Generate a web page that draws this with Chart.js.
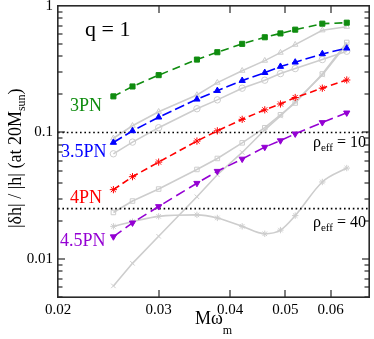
<!DOCTYPE html>
<html>
<head>
<meta charset="utf-8">
<script src="https://cdn.jsdelivr.net/npm/chart.js@4"></script>
<style>
  html, body { margin: 0; padding: 0; background: #fff; }
  #wrap { width: 374px; height: 339px; }
</style>
</head>
<body>
<div id="wrap"><canvas id="myChart" width="374" height="339"></canvas></div>
<script>
// frequencies M*omega_m
const xVals = [0.025, 0.027, 0.030, 0.035, 0.038, 0.042, 0.046, 0.049, 0.052, 0.058, 0.064];

// PN orders (coloured, dashed)
const pn3  = [0.193, 0.231, 0.284, 0.377, 0.431, 0.502, 0.566, 0.607, 0.650, 0.725, 0.738];
const pn35 = [0.0833, 0.103, 0.132, 0.183, 0.214, 0.257, 0.297, 0.332, 0.359, 0.418, 0.463];
const pn4  = [0.0353, 0.0447, 0.0583, 0.0855, 0.103, 0.127, 0.151, 0.168, 0.189, 0.224, 0.260];
const pn45 = [0.0150, 0.0193, 0.0260, 0.0397, 0.0494, 0.0617, 0.0766, 0.0862, 0.0976, 0.120, 0.143];

// other curves (grey)
const grayTri  = [0.090, 0.113, 0.146, 0.198, 0.248, 0.308, 0.370, 0.428, 0.495, 0.643, 0.686];
const grayCirc = [0.0678, 0.0839, 0.109, 0.154, 0.181, 0.224, 0.259, 0.292, 0.320, 0.377, 0.439];
const graySq   = [0.0233, 0.0287, 0.0357, 0.051, 0.0623, 0.0828, 0.109, 0.138, 0.171, 0.290, 0.515];
const grayX    = [0.00612, 0.00923, 0.0151, 0.031, 0.0463, 0.0695, 0.105, 0.135, 0.175, 0.285, 0.501];
const grayStar = [0.0181, 0.0197, 0.0217, 0.0223, 0.0211, 0.0181, 0.0158, 0.0169, 0.0220, 0.0406, 0.0523];

// SNR threshold lines
const rhoLevels = [0.1, 0.025];

const xTicks = [0.02, 0.03, 0.04, 0.05, 0.06];
const yTicks = [0.01, 0.1, 1];

const GRAY = '#cdcdcd';
const SERIF = '"Liberation Serif", "Times New Roman", serif';

const pts = arr => xVals.map((x, i) => ({ x: x, y: arr[i] }));

function pnSet(arr, color, style, dash, rot) {
    return {
        data: pts(arr), borderColor: color, backgroundColor: color,
        borderWidth: 1.6, borderDash: dash, pointStyle: style,
        pointRotation: rot || 0, pointRadius: 3.6, pointBorderWidth: 1,
        pointBorderColor: color, pointBackgroundColor: color, tension: 0
    };
}
function graySet(arr, style, smooth) {
    const d = {
        data: pts(arr), borderColor: GRAY, borderWidth: 1.6,
        pointStyle: style, pointRadius: 3.2, pointBorderWidth: 1,
        pointBorderColor: GRAY, pointBackgroundColor: 'rgba(0,0,0,0)', tension: 0
    };
    if (smooth) d.cubicInterpolationMode = 'monotone';
    return d;
}

const datasets = [
    pnSet(pn3, '#0f8c0f', 'rect', [8, 5]),
    pnSet(pn35, '#0000ff', 'triangle', [10, 4]),
    pnSet(pn4, '#ff0000', 'star', [7, 4]),
    pnSet(pn45, '#9400d3', 'triangle', [10, 5], 180)
];
rhoLevels.forEach(v => {
    datasets.push({
        data: [{ x: 0.02, y: v }, { x: 0.07, y: v }], borderColor: '#000',
        borderWidth: 1.6, borderDash: [1.6, 2.8], pointRadius: 0
    });
});
datasets.push(graySet(grayTri, 'triangle'));
datasets.push(graySet(grayCirc, 'circle'));
datasets.push(graySet(graySq, 'rect'));
datasets.push(graySet(grayX, 'crossRot'));
datasets.push(graySet(grayStar, 'star', true));

function drawSub(ctx, x, y, main, sub, after, size, subSize, drop) {
    ctx.font = size + 'px ' + SERIF;
    ctx.fillText(main, x, y);
    x += ctx.measureText(main).width;
    ctx.font = subSize + 'px ' + SERIF;
    ctx.fillText(sub, x, y + drop);
    x += ctx.measureText(sub).width;
    ctx.font = size + 'px ' + SERIF;
    ctx.fillText(after, x, y);
}

const decorations = {
    id: 'decorations',
    afterDraw(chart) {
        const ctx = chart.ctx;
        const xs = chart.scales.x, ys = chart.scales.y;
        const L = Math.round(xs.left), R = Math.round(xs.right);
        const T = Math.round(ys.top), B = Math.round(ys.bottom);
        ctx.save();
        ctx.setLineDash([]);
        ctx.globalAlpha = 1;
        ctx.fillStyle = '#2a2a2a';
        // frame
        ctx.fillRect(L - 1, T - 1, R - L + 2, 1.6);
        ctx.fillRect(L - 1, B - 0.6, R - L + 2, 1.6);
        ctx.fillRect(L - 1, T - 1, 1.6, B - T + 2);
        ctx.fillRect(R - 0.6, T - 1, 1.6, B - T + 2);
        // x ticks, top and bottom
        xTicks.slice(1).forEach(v => {
            const px = Math.round(xs.getPixelForValue(v));
            ctx.fillRect(px - 0.6, B - 7, 1.2, 7);
            ctx.fillRect(px - 0.6, T, 1.2, 7);
        });
        // y ticks, major and minor, left and right
        [0.001, 0.01, 0.1].forEach(dec => {
            for (let m = 1; m <= 9; m++) {
                const v = dec * m;
                if (v < 0.005 || v > 1) continue;
                const py = Math.round(ys.getPixelForValue(v));
                const len = m === 1 ? 7 : 4.5;
                ctx.fillRect(L, py - 0.6, len, 1.2);
                ctx.fillRect(R - len, py - 0.6, len, 1.2);
            }
        });

        ctx.fillStyle = '#000';
        ctx.textBaseline = 'alphabetic';
        ctx.textAlign = 'left';
        // x title
        drawSub(ctx, 195, 323.5, 'M\u03c9', 'm', '', 18, 12, 10);
        // y title (rotated)
        ctx.save();
        ctx.translate(21, 228);
        ctx.rotate(-Math.PI / 2);
        drawSub(ctx, 0, 0, '|\u03b4h| / |h| (at 20M', 'sun', ')', 18, 12, 4);
        ctx.restore();

        // annotations
        ctx.font = '22px ' + SERIF;
        ctx.fillText('q = 1', 85, 36);
        ctx.font = '18px ' + SERIF;
        ctx.fillStyle = '#0f8c0f'; ctx.fillText('3PN', 70, 111);
        ctx.fillStyle = '#0000ff'; ctx.fillText('3.5PN', 61, 156.5);
        ctx.fillStyle = '#ff0000'; ctx.fillText('4PN', 70, 203);
        ctx.fillStyle = '#9400d3'; ctx.fillText('4.5PN', 60, 246);
        ctx.fillStyle = '#000';
        drawSub(ctx, 313, 147, '\u03c1', 'eff', ' = 10', 16, 11, 4);
        drawSub(ctx, 313, 227, '\u03c1', 'eff', ' = 40', 16, 11, 4);
        ctx.restore();
    }
};

const ctx = document.getElementById('myChart');

new Chart(ctx, {
    type: 'line',
    data: { datasets: datasets },
    options: {
        responsive: false,
        animation: false,
        layout: { padding: { top: 6, right: 2, left: 0, bottom: 0 } },
        plugins: { legend: { display: false }, tooltip: { enabled: false } },
        scales: {
            x: {
                type: 'logarithmic', min: 0.02, max: 0.07,
                grid: { display: false, drawTicks: false, tickLength: 0 },
                border: { display: false },
                afterBuildTicks: s => { s.ticks = xTicks.map(v => ({ value: v })); },
                afterFit: s => { s.height = 42; s.paddingLeft = 0; s.paddingRight = 0; },
                ticks: {
                    autoSkip: false, maxRotation: 0, padding: 4,
                    color: '#000', font: { family: SERIF, size: 15 },
                    callback: v => String(v)
                }
            },
            y: {
                type: 'logarithmic', min: 0.005, max: 1,
                grid: { display: false, drawTicks: false, tickLength: 0 },
                border: { display: false },
                afterBuildTicks: s => { s.ticks = yTicks.map(v => ({ value: v })); },
                afterFit: s => { s.width = 58; s.paddingTop = 0; s.paddingBottom = 0; },
                ticks: {
                    autoSkip: false, padding: 5,
                    color: '#000', font: { family: SERIF, size: 15 },
                    callback: v => String(v)
                }
            }
        }
    },
    plugins: [decorations]
});
</script>
</body>
</html>
